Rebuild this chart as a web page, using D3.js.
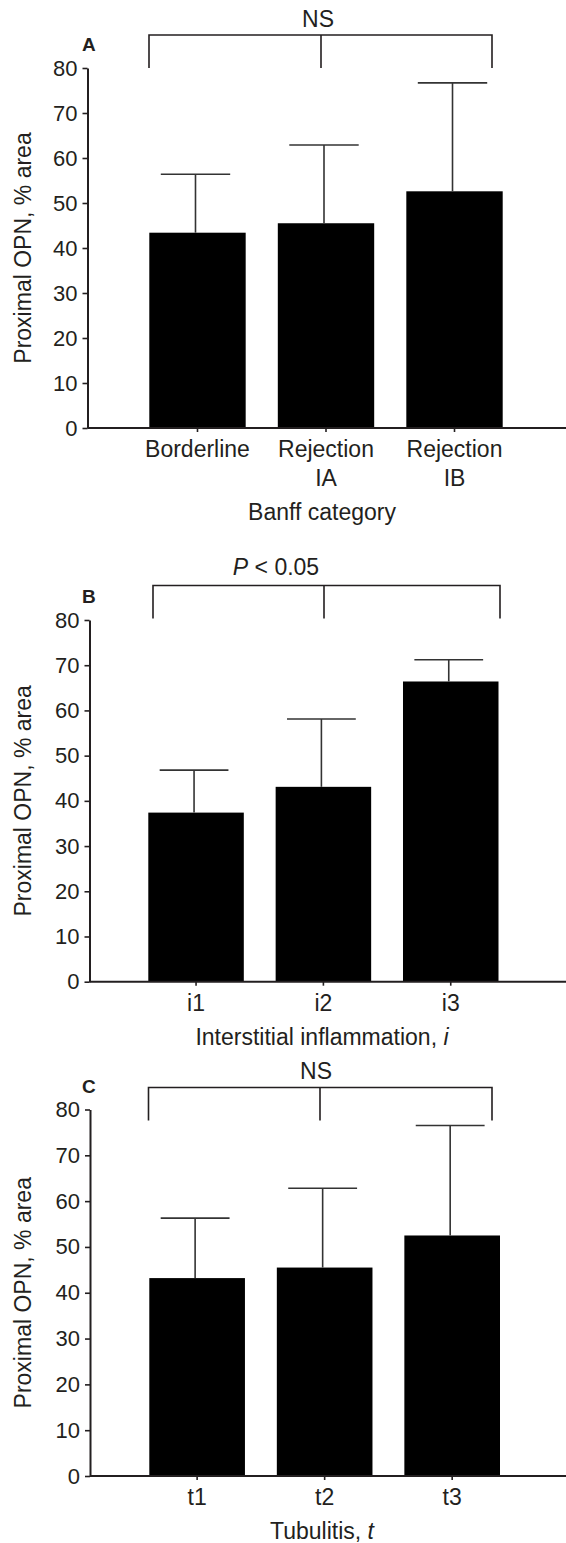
<!DOCTYPE html>
<html>
<head>
<meta charset="utf-8">
<script src="https://cdn.jsdelivr.net/npm/d3@7/dist/d3.min.js"></script>
<style>
  body { margin: 0; background: #fff; }
  svg text { font-family: "Liberation Sans", Arial, Helvetica, sans-serif; fill: #231f20; }
</style>
</head>
<body>
<div id="chart"></div>
<script>
// values
const banffCats = [["Borderline"], ["Rejection", "IA"], ["Rejection", "IB"]];
const banffMean = [43.4, 45.5, 52.6];
const banffSD = [13.0, 17.4, 24.1];

const inflCats = [["i1"], ["i2"], ["i3"]];
const inflMean = [37.4, 43.1, 66.4];
const inflSD = [9.4, 15.0, 4.8];

const tubCats = [["t1"], ["t2"], ["t3"]];
const tubMean = [43.2, 45.5, 52.5];
const tubSD = [13.1, 17.3, 24.0];

const yTicks = [0, 10, 20, 30, 40, 50, 60, 70, 80];
const yLabel = "Proximal OPN, % area";

const width = 566;
const height = 1543;
const ink = "#231f20";

const svg = d3.select("#chart")
  .append("svg")
  .attr("width", width)
  .attr("height", height);

// each panel: where its plot sits on the page
const panels = [
  {
    tag: "A", cats: banffCats, mean: banffMean, sd: banffSD,
    title: [["Banff category", false]],
    sig: [["NS", false]], sigX: 318, sigY: 27, brTop: 35, brBot: 68, brX: [149, 321, 492],
    axisX: 87.5, yTop: 68, yBot: 428, barL: 149.3, barR: 502.7
  },
  {
    tag: "B", cats: inflCats, mean: inflMean, sd: inflSD,
    title: [["Interstitial inflammation, ", false], ["i", true]],
    sig: [["P", true], [" < 0.05", false]], sigX: 276, sigY: 575, brTop: 585.5, brBot: 618.5, brX: [153, 324, 500],
    axisX: 89.5, yTop: 620, yBot: 981.7, barL: 148.3, barR: 498.5
  },
  {
    tag: "C", cats: tubCats, mean: tubMean, sd: tubSD,
    title: [["Tubulitis, ", false], ["t", true]],
    sig: [["NS", false]], sigX: 316, sigY: 1078.5, brTop: 1087.5, brBot: 1120.5, brX: [148.5, 320, 492],
    axisX: 90, yTop: 1109.5, yBot: 1476, barL: 149.3, barR: 500
  }
];

panels.forEach((p) => {
  const g = svg.append("g");
  const idx = d3.range(p.cats.length);

  const x = d3.scaleBand()
    .domain(idx)
    .range([p.barL, p.barR])
    .paddingInner(0.25)
    .paddingOuter(0);

  const y = d3.scaleLinear()
    .domain([0, 80])
    .range([p.yBot, p.yTop]);

  // bars
  g.selectAll(".bar")
    .data(idx)
    .enter()
    .append("rect")
    .attr("x", (i) => x(i))
    .attr("y", (i) => y(p.mean[i]))
    .attr("width", x.bandwidth())
    .attr("height", (i) => y(0) - y(p.mean[i]))
    .attr("fill", "#000");

  // error bars (upper only)
  const cap = x.bandwidth() * 0.36;
  idx.forEach((i) => {
    const cx = x(i) + x.bandwidth() / 2 - 2;
    const top = y(p.mean[i] + p.sd[i]);
    g.append("line")
      .attr("x1", cx).attr("x2", cx)
      .attr("y1", y(p.mean[i])).attr("y2", top)
      .attr("stroke", "#333").attr("stroke-width", 1.6);
    g.append("line")
      .attr("x1", cx - cap).attr("x2", cx + cap)
      .attr("y1", top).attr("y2", top)
      .attr("stroke", "#333").attr("stroke-width", 1.6);
  });

  // y axis
  const yAxis = g.append("g")
    .attr("transform", `translate(${p.axisX},0)`)
    .call(d3.axisLeft(y).tickValues(yTicks).tickSize(5).tickPadding(5).tickSizeOuter(0));
  yAxis.select(".domain").attr("stroke", ink).attr("stroke-width", 2);
  yAxis.selectAll(".tick line").attr("stroke", ink).attr("stroke-width", 1.6);
  yAxis.selectAll(".tick text")
    .style("font-size", "22px")
    .style("font-family", "Liberation Sans, Arial, sans-serif")
    .attr("fill", ink);

  // x axis line runs to the page edge
  const xAxis = g.append("g")
    .attr("transform", `translate(0,${p.yBot})`)
    .call(d3.axisBottom(x).tickSize(4).tickFormat("").tickSizeOuter(0));
  xAxis.select(".domain").attr("d", `M${p.axisX},0H${width}`).attr("stroke", ink).attr("stroke-width", 2);
  xAxis.selectAll(".tick line").attr("stroke", ink).attr("stroke-width", 1.6);

  // category labels
  let lastLine = 0;
  idx.forEach((i) => {
    const t = g.append("text")
      .attr("x", x(i) + x.bandwidth() / 2)
      .attr("y", p.yBot + 29)
      .attr("text-anchor", "middle")
      .style("font-size", "23px");
    p.cats[i].forEach((line, k) => {
      t.append("tspan")
        .attr("x", x(i) + x.bandwidth() / 2)
        .attr("dy", k === 0 ? 0 : 29)
        .text(line);
      lastLine = Math.max(lastLine, k);
    });
  });

  // x axis title
  const tt = g.append("text")
    .attr("x", 322)
    .attr("y", p.yBot + 29 + lastLine * 29 + 34)
    .attr("text-anchor", "middle")
    .style("font-size", "23px");
  p.title.forEach(([s, it]) => tt.append("tspan").style("font-style", it ? "italic" : "normal").text(s));

  // y axis title
  g.append("text")
    .attr("transform", `translate(31,${(p.yTop + p.yBot) / 2}) rotate(-90)`)
    .attr("text-anchor", "middle")
    .style("font-size", "23px")
    .text(yLabel);

  // panel letter
  g.append("text")
    .attr("x", 82)
    .attr("y", p.yTop - 17)
    .style("font-size", "19px")
    .style("font-weight", "bold")
    .text(p.tag);

  // significance bracket
  const [bl, bm, br] = p.brX;
  g.append("path")
    .attr("d", `M${bl},${p.brBot}V${p.brTop}H${br}V${p.brBot}M${bm},${p.brTop}V${p.brBot}`)
    .attr("fill", "none")
    .attr("stroke", ink)
    .attr("stroke-width", 1.6);

  const st = g.append("text")
    .attr("x", p.sigX)
    .attr("y", p.sigY)
    .attr("text-anchor", "middle")
    .style("font-size", "23px");
  p.sig.forEach(([s, it]) => st.append("tspan").style("font-style", it ? "italic" : "normal").text(s));
});
</script>
</body>
</html>
